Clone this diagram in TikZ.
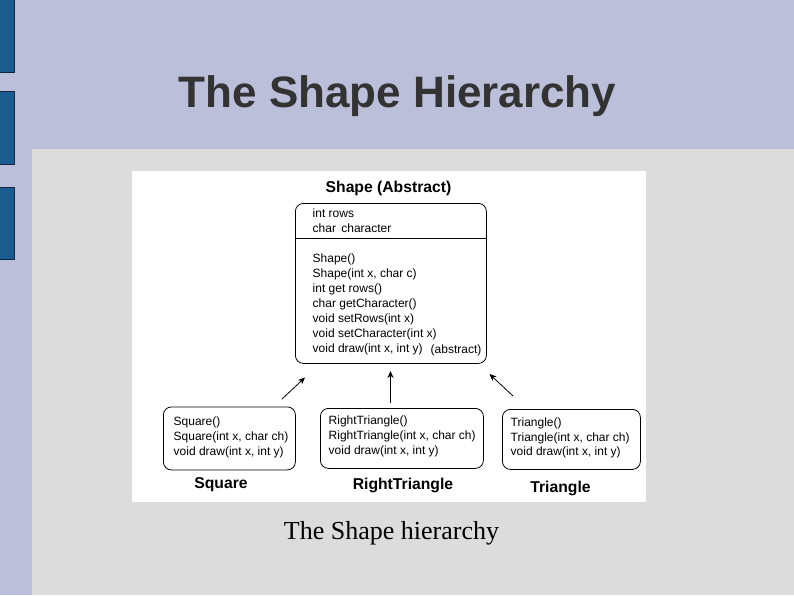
\documentclass[tikz,border=0pt]{standalone}
\usepackage{fontspec}
\setmainfont{Liberation Sans}
\newfontfamily\capfont{Liberation Serif}
\usetikzlibrary{arrows.meta}
\definecolor{lav}{HTML}{BBBFDA}
\definecolor{panel}{HTML}{DCDCDC}
\definecolor{barblue}{HTML}{1B5C91}
\definecolor{barline}{HTML}{10253F}
\definecolor{titlec}{HTML}{333333}
\begin{document}
\begin{tikzpicture}[x=1pt,y=-1pt,
  bar/.style={fill=barblue,draw=barline,line width=0.8pt},
  umlbox/.style={draw=black,line width=0.8pt,rounded corners=8pt,anchor=north west,inner sep=0pt},
  txt/.style={font=\fontsize{12}{15}\selectfont,anchor=base west,inner sep=0pt},
  lbl/.style={font=\bfseries\fontsize{15.7}{18}\selectfont,anchor=base,inner sep=0pt},
  inh/.style={-{Stealth[length=7pt,width=6pt]},line width=0.8pt}]
\useasboundingbox (0,0) rectangle (794,595);
\fill[lav] (0,0) rectangle (794,595);
\fill[panel] (32,149) rectangle (794,595);
\draw[bar] (-1,-1) rectangle (14,72);
\draw[bar] (-1,91) rectangle (14,164);
\draw[bar] (-1,187) rectangle (14,259);
\fill[white] (132,171) rectangle (646,502);

\node[font=\bfseries\fontsize{44}{50}\selectfont,text=titlec,anchor=base,inner sep=0pt] (title) at (397.5,107) {The Shape Hierarchy};

% Shape box
\node[lbl] (shapelbl) at (388.5,192) {Shape (Abstract)};
\node[umlbox,minimum width=191,minimum height=160] (shape) at (295,203) {};
\draw[line width=0.8pt] (shape.west |- 0,238) -- (shape.east |- 0,238);
\node[txt] (f1) at (312.5,217) {int rows};
\node[txt] (f2) at (312.5,232) {char\, character};
\node[txt] (m1) at (312.5,262) {Shape()};
\node[txt] (m2) at (312.5,277) {Shape(int x, char c)};
\node[txt] (m3) at (312.5,292) {int get rows()};
\node[txt] (m4) at (312.5,307) {char getCharacter()};
\node[txt] (m5) at (312.5,322) {void setRows(int x)};
\node[txt] (m6) at (312.5,337) {void setCharacter(int x)};
\node[txt] (m7) at (312.5,352) {void draw(int x, int y)};
\node[txt] (m8) at (430.5,353) {(abstract)};

% Square
\node[umlbox,minimum width=132,minimum height=63] (square) at (163,406.5) {};
\node[txt] (s1) at (173.5,425) {Square()};
\node[txt] (s2) at (173.5,440) {Square(int x, char ch)};
\node[txt] (s3) at (173.5,455) {void draw(int x, int y)};
\node[lbl] (squarelbl) at (221,488.5) {Square};

% RightTriangle
\node[umlbox,minimum width=163,minimum height=60] (rtri) at (320,408) {};
\node[txt] (r1) at (328.5,424) {RightTriangle()};
\node[txt] (r2) at (328.5,439) {RightTriangle(int x, char ch)};
\node[txt] (r3) at (328.5,454) {void draw(int x, int y)};
\node[lbl] (rtrilbl) at (403,489.5) {RightTriangle};

% Triangle
\node[umlbox,minimum width=138,minimum height=60] (tri) at (502,409) {};
\node[txt] (t1) at (510.5,426) {Triangle()};
\node[txt] (t2) at (510.5,441) {Triangle(int x, char ch)};
\node[txt] (t3) at (510.5,455) {void draw(int x, int y)};
\node[lbl] (trilbl) at (560.5,492.5) {Triangle};

% inheritance arrows
\coordinate (a1s) at (282,399);
\coordinate (a1e) at (305,377.5);
\coordinate (a2s) at (390.5,403);
\coordinate (a2e) at (390.5,371);
\coordinate (a3s) at (513,396);
\coordinate (a3e) at (489.5,374);
\draw[inh] (a1s) -- (a1e);
\draw[inh] (a2s) -- (a2e);
\draw[inh] (a3s) -- (a3e);

\node[font=\capfont\fontsize{26}{30}\selectfont,anchor=base,inner sep=0pt] (caption) at (391.5,539) {The Shape hierarchy};
\end{tikzpicture}
\end{document}
